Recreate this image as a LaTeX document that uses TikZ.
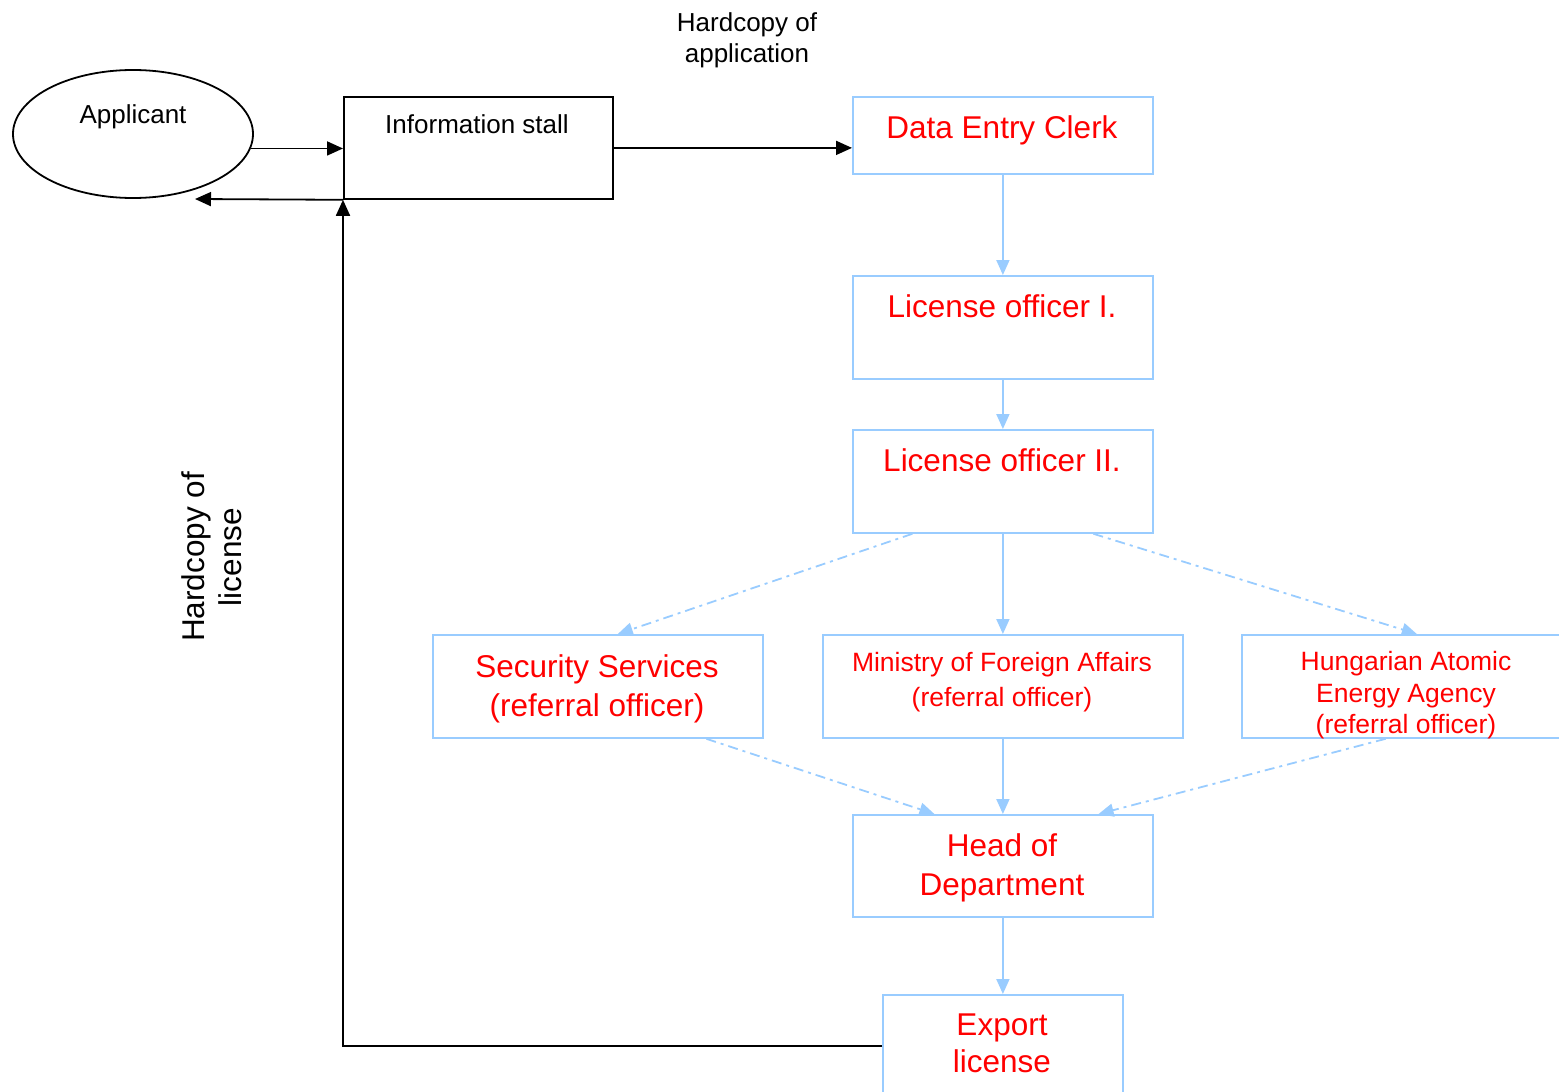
\documentclass[tikz,border=0pt]{standalone}
\usepackage{fontspec}
\setmainfont{Liberation Sans}
\usetikzlibrary{arrows.meta,calc,shapes.geometric}
\definecolor{lblue}{RGB}{153,204,255}
\begin{document}
\begin{tikzpicture}[x=1pt,y=-1pt,
 bbox/.style={draw=lblue, line width=1.8pt, rectangle, inner sep=0pt, anchor=north west},
 kbox/.style={draw=black, line width=1.8pt, rectangle, inner sep=0pt, anchor=north west},
 big/.style={text=red, font=\fontsize{31.5}{38}\selectfont, anchor=base, inner sep=0pt},
 mid/.style={text=red, font=\fontsize{26.5}{32}\selectfont, anchor=base, inner sep=0pt},
 blk/.style={text=black, font=\fontsize{26}{31}\selectfont, anchor=base, inner sep=0pt},
 barr/.style={draw=lblue, line width=1.8pt, -{Triangle[length=15pt,width=13pt]}},
 bdash/.style={barr, dash pattern=on 10pt off 5pt on 3pt off 5pt},
 karr/.style={draw=black, line width=1.8pt, -{Triangle[length=16pt,width=14pt]}},
]
\useasboundingbox (0,0) rectangle (1559,1092);
% shapes
\node[draw, ellipse, line width=1.8pt, minimum width=240pt, minimum height=128pt, inner sep=0pt] (app) at (133,134) {};
\node[kbox, minimum width=269pt, minimum height=102pt] (info) at (343,96) {};
\node[bbox, minimum width=300pt, minimum height=77pt] (dec) at (852,96) {};
\node[bbox, minimum width=300pt, minimum height=103pt] (lo1) at (852,275) {};
\node[bbox, minimum width=300pt, minimum height=103pt] (lo2) at (852,429) {};
\node[bbox, minimum width=330pt, minimum height=103pt] (sec) at (432,634) {};
\node[bbox, minimum width=360pt, minimum height=103pt] (min) at (822,634) {};
\node[bbox, minimum width=330pt, minimum height=103pt] (hun) at (1241,634) {};
\node[bbox, minimum width=300pt, minimum height=102pt] (head) at (852,814) {};
\node[bbox, minimum width=240pt, minimum height=102pt] (exp) at (882,994) {};
% texts
\node[blk] (appt) at (133,123) {Applicant};
\node[blk] (infot) at (477,133) {Information stall};
\node[blk] (hc1) at (747,31) {Hardcopy of};
\node[blk] (hc2) at (747,62) {application};
\node[big] (dect) at (1002,138) {Data Entry Clerk};
\node[big] (lo1t) at (1002,317) {License officer I.};
\node[big] (lo2t) at (1002,471) {License officer II.};
\node[big] (sec1) at (597,677) {Security Services};
\node[big] (sec2) at (597,716) {(referral officer)};
\node[mid] (min1) at (1002,671) {Ministry of Foreign Affairs};
\node[mid] (min2) at (1002,706) {(referral officer)};
\node[mid] (hun1) at (1406,670) {Hungarian Atomic};
\node[mid] (hun2) at (1406,702) {Energy Agency};
\node[mid] (hun3) at (1406,733) {(referral officer)};
\node[big] (head1) at (1002,856) {Head of};
\node[big] (head2) at (1002,895) {Department};
\node[big] (exp1) at (1002,1035) {Export};
\node[big] (exp2) at (1002,1072) {license};
\node[text=black, font=\fontsize{31.5}{38}\selectfont, rotate=90, anchor=base, inner sep=0pt] (hl1) at (204,557) {Hardcopy of};
\node[text=black, font=\fontsize{31.5}{38}\selectfont, rotate=90, anchor=base, inner sep=0pt] (hl2) at (241,557) {license};
% black connectors
\coordinate (appin) at (195,199);
\draw[karr] (app.-7) -- (app.-7 -| info.west);
\draw[karr] (info.east) -- (info.east -| dec.west);
\draw[karr] (info.south west) -- (appin);
\draw[karr] (exp.west) -| (info.south west);
% blue connectors
\draw[barr] (dec.south) -- (lo1.north);
\draw[barr] (lo1.south) -- (lo2.north);
\draw[barr] (lo2.south) -- (min.north);
\draw[barr] (min.south) -- (head.north);
\draw[barr] (head.south) -- (exp.north);
\draw[bdash] ($(lo2.south west)!0.2!(lo2.south east)$) -- ($(sec.north west)!0.56!(sec.north east)$);
\draw[bdash] ($(lo2.south west)!0.8!(lo2.south east)$) -- ($(hun.north west)!0.53!(hun.north east)$);
\draw[bdash] ($(sec.south west)!0.827!(sec.south east)$) -- ($(head.north west)!0.273!(head.north east)$);
\draw[bdash] ($(hun.south west)!0.436!(hun.south east)$) -- ($(head.north west)!0.817!(head.north east)$);
\end{tikzpicture}
\end{document}
